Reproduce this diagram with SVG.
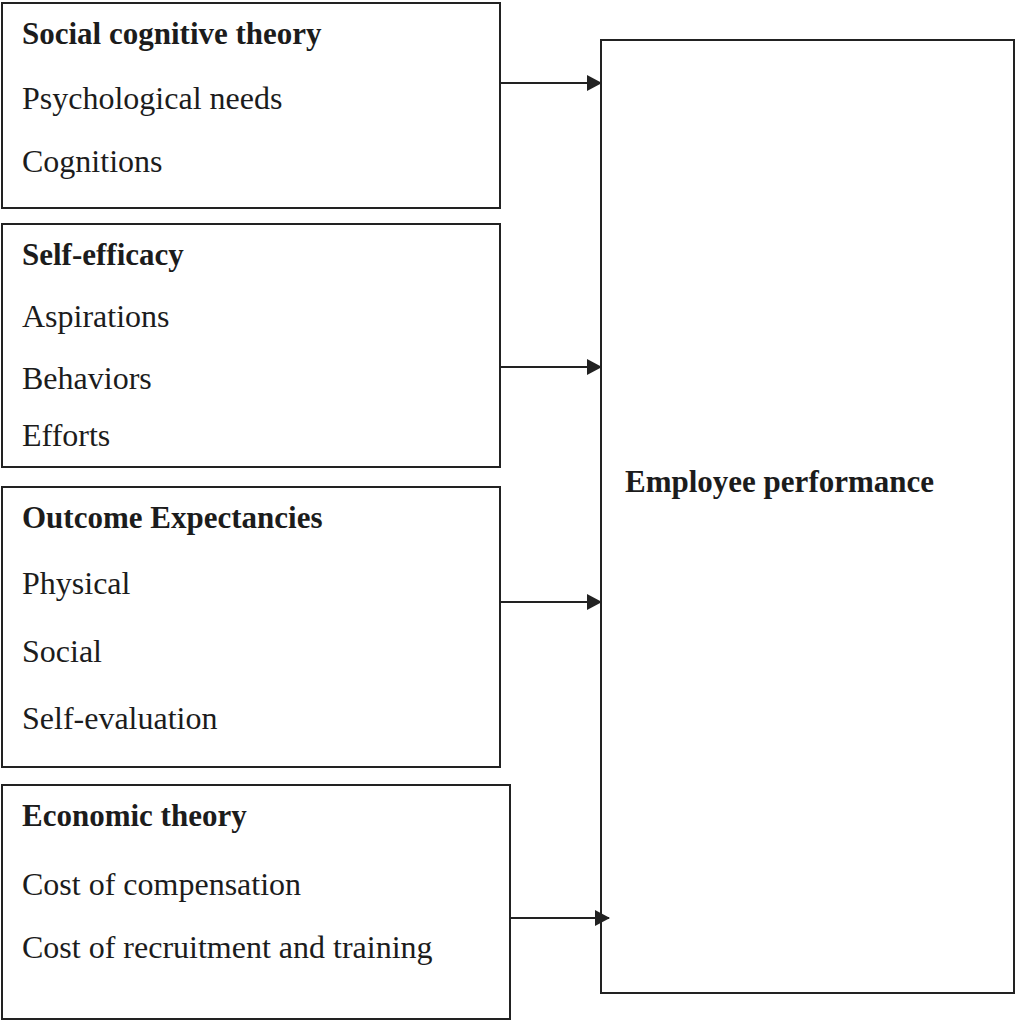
<svg xmlns="http://www.w3.org/2000/svg" width="1015" height="1021" viewBox="0 0 1015 1021">
<style>
.box{fill:none;stroke:#222;stroke-width:2}
.t{font-family:"Liberation Serif","Times New Roman",serif;font-size:32px;fill:#1c1c1c}
.b{font-weight:bold;font-size:31px}
.c{stroke:#222;stroke-width:2;fill:none}
</style>
<defs>
<marker id="ah" markerWidth="15" markerHeight="16" refX="14" refY="8" orient="auto" markerUnits="userSpaceOnUse">
<path d="M0,0 L15,8 L0,16 Z" fill="#222"/>
</marker>
</defs>
<rect width="1015" height="1021" fill="#fff"/>
<g id="social-cognitive">
<rect class="box" x="2" y="3" width="498" height="205"/>
<text class="t b" x="22" y="44">Social cognitive theory</text>
<text class="t" x="22" y="109">Psychological needs</text>
<text class="t" x="22" y="172">Cognitions</text>
</g>
<g id="self-efficacy">
<rect class="box" x="2" y="224" width="498" height="243"/>
<text class="t b" x="22" y="265">Self-efficacy</text>
<text class="t" x="22" y="327">Aspirations</text>
<text class="t" x="22" y="389">Behaviors</text>
<text class="t" x="22" y="446">Efforts</text>
</g>
<g id="outcome-expectancies">
<rect class="box" x="2" y="487" width="498" height="280"/>
<text class="t b" x="22" y="528">Outcome Expectancies</text>
<text class="t" x="22" y="594">Physical</text>
<text class="t" x="22" y="662">Social</text>
<text class="t" x="22" y="729">Self-evaluation</text>
</g>
<g id="economic-theory">
<rect class="box" x="2" y="785" width="508" height="234"/>
<text class="t b" x="22" y="826">Economic theory</text>
<text class="t" x="22" y="895">Cost of compensation</text>
<text class="t" x="22" y="958">Cost of recruitment and training</text>
</g>
<g id="employee-performance">
<rect class="box" x="601" y="40" width="413" height="953"/>
<text class="t b" x="625" y="492">Employee performance</text>
</g>
<g id="connectors">
<line class="c" x1="500" y1="83" x2="601" y2="83" marker-end="url(#ah)"/>
<line class="c" x1="500" y1="367" x2="601" y2="367" marker-end="url(#ah)"/>
<line class="c" x1="500" y1="602" x2="601" y2="602" marker-end="url(#ah)"/>
<line class="c" x1="510" y1="918" x2="609" y2="918" marker-end="url(#ah)"/>
</g>
</svg>
